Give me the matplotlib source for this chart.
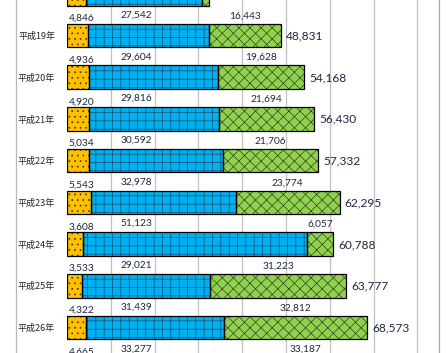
import matplotlib
matplotlib.use("Agg")
import matplotlib.pyplot as plt
from matplotlib.lines import Line2D
import numpy as np

# ---- data ----
years = ["平成18年", "平成19年", "平成20年", "平成21年", "平成22年",
         "平成23年", "平成24年", "平成25年", "平成26年", "平成27年"]
orange = [4340, 4846, 4936, 4920, 5034, 5543, 3608, 3533, 4322, 4665]
blue = [26480, 27542, 29604, 29816, 30592, 32978, 51123, 29021, 31439, 33277]
green = [1600, 16443, 19628, 21694, 21706, 23774, 6057, 31223, 32812, 33187]
totals = [32420, 48831, 54168, 56430, 57332, 62295, 60788, 63777, 68573, 71129]
show_labels = [False, True, True, True, True, True, True, True, True, True]

W, H = 446, 353
fig = plt.figure(figsize=(W / 100, H / 100), dpi=100)
fig.patch.set_facecolor("white")

px_per_unit = 4.38 / 1000.0
x0_px = 67
xmax = 85000
ax = fig.add_axes([x0_px / W, 0, xmax * px_per_unit / W, 1])

pitch = 41.71
k = np.arange(len(years))
top_k = 1 - 35.5 / pitch
bot_k = 1 + (H - 35.5) / pitch

bh = 0.563
C_OR = "#FFC000"
C_BL = "#00B0F0"
C_GR = "#92D050"

o = np.array(orange)
b = np.array(blue)
g = np.array(green)

plt.rcParams["hatch.linewidth"] = 0.5

# fills
ax.barh(k, o, height=bh, color=C_OR, edgecolor="none", zorder=2)
ax.barh(k, b, left=o, height=bh, color=C_BL, edgecolor="none", zorder=2)
ax.barh(k, g, left=o + b, height=bh, color=C_GR, edgecolor="none", zorder=2)
# hatches
ax.barh(k, o, height=bh, facecolor="none", edgecolor="#4a3500", hatch="...", linewidth=0, zorder=3)
ax.barh(k, b, left=o, height=bh, facecolor="none", edgecolor="#1c4f6e", hatch="++", linewidth=0, zorder=3)
ax.barh(k, g, left=o + b, height=bh, facecolor="none", edgecolor="#2a4a18", hatch="xxx", linewidth=0, zorder=3)
# outlines
for vals, lefts in [(o, 0), (b, o), (g, o + b)]:
    ax.barh(k, vals, left=lefts, height=bh, facecolor="none", edgecolor="black", linewidth=0.9, zorder=4)

# grid
ax.set_xticks(np.arange(10000, 80001, 10000))
ax.xaxis.grid(True, color="#C0C0C0", linewidth=0.9)
ax.set_axisbelow(True)
ax.tick_params(axis="x", length=0, labelbottom=False)
for s in ["top", "bottom", "left"]:
    ax.spines[s].set_visible(False)
ax.spines["right"].set_color("#A8A8A8")
ax.spines["right"].set_linewidth(0.9)

# y labels
ax.set_yticks(k)
ax.set_yticklabels(years, fontfamily=["Noto Sans CJK JP", "DejaVu Sans"], fontsize=6.5, color="#262626")
ax.tick_params(axis="y", length=0, pad=8.6)
ax.set_xlim(0, xmax)
ax.set_ylim(bot_k, top_k)

# left border line
fig.add_artist(Line2D([16 / W, 16 / W], [0, 1], color="#B8B8B8", linewidth=0.9))

TXT = "#1f2540"
num_font = "Lato"
blue_x = (152.5 - x0_px) / px_per_unit
orange_x = (81.5 - x0_px) / px_per_unit
pad_units = 5 / px_per_unit
for i in range(len(years)):
    if not show_labels[i]:
        continue
    ax.text(orange_x, k[i] - 0.41, f"{orange[i]:,}", ha="center", va="center",
            fontsize=7.3, color=TXT, fontfamily=num_font, zorder=5)
    ax.text(blue_x, k[i] - 0.49, f"{blue[i]:,}", ha="right", va="center",
            fontsize=7.3, color=TXT, fontfamily=num_font, zorder=5)
    gc = orange[i] + blue[i] + green[i] / 2
    ax.text(gc, k[i] - 0.47, f"{green[i]:,}", ha="center", va="center",
            fontsize=7.3, color=TXT, fontfamily=num_font, zorder=5)
    ax.text(totals[i] + pad_units, k[i] + 0.01, f"{totals[i]:,}", ha="left", va="center",
            fontsize=8.6, color=TXT, fontfamily=num_font, zorder=5)

fig.savefig("out.png", dpi=100, facecolor="white")
